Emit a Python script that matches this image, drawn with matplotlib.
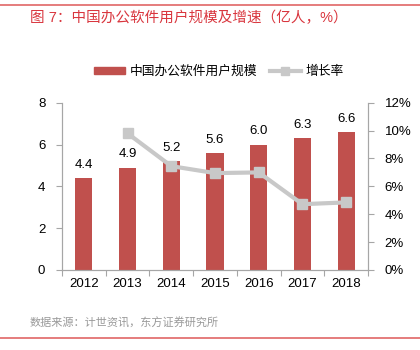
import matplotlib
matplotlib.use("Agg")
import matplotlib.pyplot as plt
from matplotlib.lines import Line2D
import numpy as np

plt.rcParams['font.family'] = ['Liberation Sans', 'Noto Sans CJK SC', 'DejaVu Sans']

years = ['2012', '2013', '2014', '2015', '2016', '2017', '2018']
users = [4.4, 4.9, 5.2, 5.6, 6.0, 6.3, 6.6]
growth_years = ['2013', '2014', '2015', '2016', '2017', '2018']
growth = [9.8, 7.45, 6.95, 7.0, 4.72, 4.85]

title = '图 7：中国办公软件用户规模及增速（亿人，%）'
source = '数据来源：计世资讯，东方证券研究所'
bar_label = '中国办公软件用户规模'
line_label = '增长率'

bar_color = '#C0504D'
line_color = '#C8C8C8'
axis_color = '#A6A6A6'
red = '#D9363E'

fig = plt.figure(figsize=(4.2, 3.5), dpi=100)
ax = fig.add_axes([62/420, 80/350, (368-62)/420, (270-102.7)/350])
ax2 = ax.twinx()

x = np.arange(len(years))
bars = ax.bar(x, users, width=0.39, color=bar_color, zorder=2)
for xi, v in zip(x, users):
    ax.text(xi, v + 0.35, f'{v:.1f}', ha='center', va='bottom', fontsize=9.5, color='#000000')

gx = [years.index(y) for y in growth_years]
ax2.plot(gx, growth, color=line_color, lw=3, marker='s', markersize=7,
         markerfacecolor=line_color, markeredgecolor=line_color, zorder=3)

ax.set_xlim(-0.5, len(years) - 0.5)
ax.set_ylim(0, 8)
ax.set_yticks([0, 2, 4, 6, 8])
ax2.set_ylim(0, 12)
ax2.set_yticks([0, 2, 4, 6, 8, 10, 12])
ax2.set_yticklabels([f'{t}%' for t in range(0, 13, 2)])

ax.set_xticks(x)
ax.set_xticklabels(years)
ax.set_xticks(np.arange(-0.5, len(years), 1.0), minor=True)
ax.tick_params(axis='x', which='major', length=0, pad=6, labelsize=9.5)
ax.tick_params(axis='x', which='minor', length=4, direction='out', color=axis_color, width=0.8)
ax.tick_params(axis='y', length=4, direction='out', color=axis_color, width=0.8, labelsize=9.5, pad=8)
ax2.tick_params(axis='y', length=4, direction='out', color=axis_color, width=0.8, labelsize=9.5, pad=8)

for a in (ax, ax2):
    a.spines['top'].set_visible(False)
    for s in ('left', 'right', 'bottom'):
        a.spines[s].set_color(axis_color)
        a.spines[s].set_linewidth(0.8)
ax.set_zorder(ax2.get_zorder() - 1)
ax.patch.set_visible(False)
ax2.patch.set_visible(False)

handles = [plt.Rectangle((0, 0), 1, 1, color=bar_color),
           Line2D([0], [0], color=line_color, lw=3, marker='s', markersize=6)]
fig.legend(handles, [bar_label, line_label], loc='center', bbox_to_anchor=(219/420, 1 - 72/350),
           ncol=2, frameon=False, fontsize=9.2, handlelength=2.4, handleheight=0.5,
           handletextpad=0.4, columnspacing=1.0)

fig.text(30/420, 1 - 18/350, title, color=red, fontsize=10.5, ha='left', va='center')
fig.text(30/420, 1 - 323/350, source, color='#999999', fontsize=8, ha='left', va='center')

fig.add_artist(Line2D([0, 1], [1 - 4.7/350, 1 - 4.7/350], color='#E06666', lw=1.2, transform=fig.transFigure))
fig.add_artist(Line2D([0, 1], [1 - 338/350, 1 - 338/350], color='#E06666', lw=1.2, transform=fig.transFigure))

fig.savefig('out.png', dpi=100)
